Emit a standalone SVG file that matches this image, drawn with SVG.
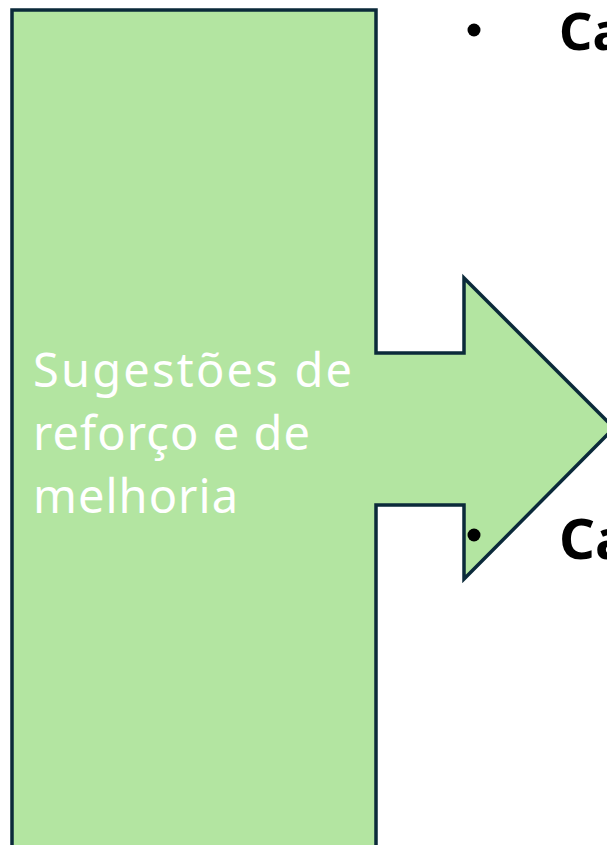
<svg xmlns="http://www.w3.org/2000/svg" width="607" height="845" viewBox="0 0 607 845">
<style>
.shape{fill:#b3e5a1;stroke:#0b2a3a;stroke-width:3.5;stroke-linejoin:miter}
.lbl{font-family:"Noto Sans","DejaVu Sans",sans-serif;font-size:47px;fill:#ffffff}
.bul{font-family:"Noto Sans","DejaVu Sans",sans-serif;font-weight:bold;fill:#000000}
</style>
<g id="callout">
<path class="shape" d="M12,10 H376 V353 H464 V278 L614,428 L464,579 V505 H376 V860 H12 Z"/>
<text class="lbl" x="33" y="387" textLength="319" lengthAdjust="spacing">Sugestões de</text>
<text class="lbl" x="33" y="450" textLength="277" lengthAdjust="spacing">reforço e de</text>
<text class="lbl" x="33" y="513" textLength="205" lengthAdjust="spacing">melhoria</text>
</g>
<g id="bullets">
<circle cx="474" cy="30" r="6.5" fill="#000"/>
<text class="bul" x="559" y="50" font-size="52">Ca</text>
<circle cx="474" cy="535" r="6.5" fill="#000"/>
<text class="bul" x="559" y="559" font-size="56">Ca</text>
</g>
</svg>
